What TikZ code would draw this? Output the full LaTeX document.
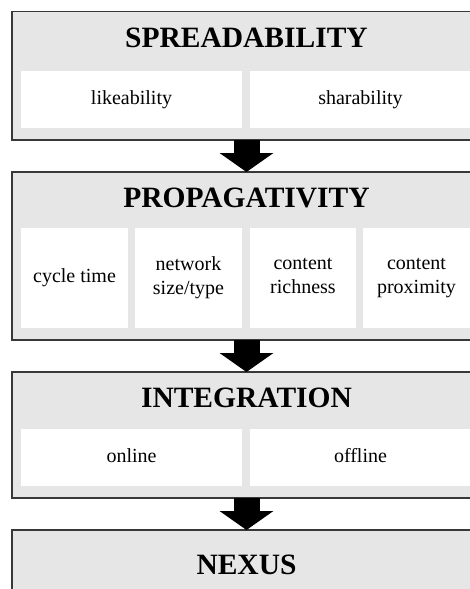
\documentclass[tikz,border=0pt]{standalone}
\usepackage{fontspec}
\setmainfont{Liberation Serif}
\usetikzlibrary{arrows.meta}
\definecolor{boxgrey}{HTML}{E7E6E6}
\definecolor{boxline}{HTML}{383838}
\newcommand{\dsc}{\vphantom{y}}
\tikzset{
  outerbox/.style={draw=boxline, line width=1.5pt, fill=boxgrey, rectangle,
    inner sep=0pt, outer sep=0pt, anchor=north west},
  innerbox/.style={fill=white, rectangle, inner sep=0pt, outer sep=0pt,
    anchor=north west, align=center, font=\fontsize{20}{24}\selectfont},
  titletext/.style={anchor=base, inner sep=0pt, font=\fontsize{29.5}{34}\selectfont\bfseries},
  blockarrow/.style={line width=26pt, black, -{Triangle[length=19pt,width=53pt]}}
}
\begin{document}
\begin{tikzpicture}[x=1pt,y=-1pt]
\useasboundingbox (0,0) rectangle (470,589);
\fill[white] (0,0) rectangle (470,589);
\clip (0,0) rectangle (470,589);
% boxes
\node[outerbox, minimum width=469pt, minimum height=128.5pt] (b1) at (12,11.5) {};
\node[outerbox, minimum width=469pt, minimum height=168pt] (b2) at (12,172) {};
\node[outerbox, minimum width=469pt, minimum height=126pt] (b3) at (12,372) {};
\node[outerbox, minimum width=469pt, minimum height=90pt] (b4) at (12,530) {};
% titles
\node[titletext] (t1) at (246.5,47) {SPREADABILITY};
\node[titletext] (t2) at (246.5,207.5) {PROPAGATIVITY};
\node[titletext] (t3) at (246.5,407) {INTEGRATION};
\node[titletext] (t4) at (246.5,574) {NEXUS};
% inner boxes, level 1
\node[innerbox, minimum width=221pt, minimum height=57pt] (s1) at (21,71) {likeability};
\node[innerbox, minimum width=221pt, minimum height=57pt] (s2) at (250,71) {sharability};
% level 2
\node[innerbox, minimum width=107pt, minimum height=100pt] (p1) at (21,228) {cycle time};
\node[innerbox, minimum width=107pt, minimum height=100pt] (p2) at (135,228) {network\\size/type};
\node[innerbox, minimum width=106pt, minimum height=100pt] (p3) at (250,228) {content\\richness\dsc};
\node[innerbox, minimum width=107pt, minimum height=100pt] (p4) at (363,228) {content\\proximity};
% level 3
\node[innerbox, minimum width=221pt, minimum height=57pt] (i1) at (21,429) {online\dsc};
\node[innerbox, minimum width=221pt, minimum height=57pt] (i2) at (250,429) {offline\dsc};
% arrows
\draw[blockarrow] (b1.south) -- (b2.north);
\draw[blockarrow] (b2.south) -- (b3.north);
\draw[blockarrow] (b3.south) -- (b4.north);
\end{tikzpicture}
\end{document}
